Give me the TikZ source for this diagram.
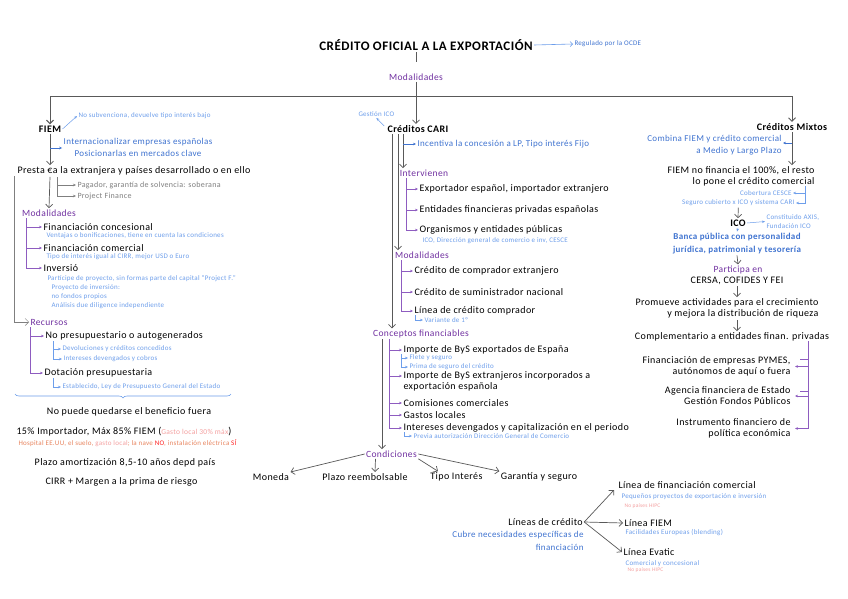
\documentclass[tikz,border=0pt]{standalone}
\usepackage{fontspec}
\setmainfont{Carlito}[LetterSpace=4]
\usetikzlibrary{arrows.meta,decorations.pathreplacing,calc}
\definecolor{pur}{HTML}{7030A0}
\definecolor{plin}{HTML}{8E5CC0}
\definecolor{blu}{HTML}{3F73D0}
\definecolor{lblu}{HTML}{6D9EEB}
\definecolor{gtxt}{HTML}{7F7F7F}
\definecolor{pnk}{HTML}{F4A0A0}
\definecolor{salm}{HTML}{E8845E}
\definecolor{rd}{HTML}{FF2020}
\definecolor{lnc}{HTML}{595959}
\tikzset{
  every node/.style={inner sep=0pt, outer sep=1.5pt},
  tx/.style={font=\fontsize{10}{11}\selectfont, text=black},
  txb/.style={font=\bfseries\fontsize{10}{11}\selectfont, text=black},
  ttl/.style={font=\bfseries\fontsize{13}{15}\selectfont, text=black},
  smx/.style={font=\fontsize{7}{9}\selectfont, text=lblu},
  tinyp/.style={font=\fontsize{5.5}{6}\selectfont, text=pnk},
  gtx/.style={font=\fontsize{8}{9}\selectfont, text=gtxt},
  blx/.style={font=\fontsize{9}{12}\selectfont, text=blu},
  pux/.style={font=\fontsize{9.5}{11}\selectfont, text=pur},
  garr/.style={draw=lnc, line width=0.7pt, -{Straight Barb[length=3.5pt,width=7pt]}},
  gline/.style={draw=lnc, line width=0.7pt},
  garrs/.style={draw=gtxt, line width=0.5pt, -{Stealth[length=3pt,width=2.5pt]}},
  parr/.style={draw=plin, line width=0.6pt, -{Stealth[length=3pt,width=2.6pt]}},
  pline/.style={draw=plin, line width=0.6pt},
  barr/.style={draw=lblu, line width=0.6pt, -{Straight Barb[length=2.5pt,width=5pt]}},
  barrs/.style={draw=lblu, line width=0.5pt, -{Stealth[length=3pt,width=2.5pt]}},
  bbarrs/.style={draw=blu, line width=0.6pt, -{Stealth[length=3pt,width=2.6pt]}},
}
\begin{document}
\begin{tikzpicture}[x=1pt,y=-1pt]
\fill[white] (0,0) rectangle (848,599);
\useasboundingbox (0,0) rectangle (848,599);

% ---------- top ----------
\node[ttl] (title) at (426,45) {CRÉDITO OFICIAL A LA EXPORTACIÓN};
\node[smx, text=blu, anchor=west] (ocde) at (573,44) {Regulado por la OCDE};
\draw[barr] (title.east) -- (ocde.west);
\node[pux] (mod) at (416,77) {Modalidades};
\draw[gline] (mod.north |- title.south) -- ++(0,10);
\coordinate (bar) at (416,97);
\node[txb] (fiem) at (50,129) {FIEM};
\node[txb] (cari) at (418,129) {Créditos CARI};
\node[txb] (mix) at (792,127) {Créditos Mixtos};
\draw[garr] (mod.south) -- (mod.south |- cari.north);
\draw[garr, line width=1pt] (bar) -| (fiem.north);
\draw[garr, line width=1pt] (bar) -| (mix.north);

% ---------- left column ----------
\node[smx, anchor=west] (nosub) at (77,116) {No subvenciona, devuelve tipo interés bajo};
\draw[barrs] (fiem.east) -- (nosub.west);
\node[blx, align=center] (intl) at (138,147.5) {Internacionalizar empresas españolas\\Posicionarlas en mercados clave};
\node[tx, anchor=west] (presta) at (16,171) {Presta €a la extranjera y países desarrollado o en ello};
\draw[garr] (fiem.south) -- (fiem.south |- presta.north);
\coordinate (f1) at (50,148);
\draw[bbarrs] (f1) -- (f1 -| intl.west);
\node[gtx, anchor=west] (pag) at (76,185) {Pagador, garantía de solvencia: soberana};
\node[gtx, anchor=west] (pf) at (76,196) {Project Finance};
\coordinate (p1) at (57,177);
\draw[garrs] (p1) |- (pag.west);
\draw[garrs] (p1) |- (pf.west);
\node[pux] (mod1) at (49,213) {Modalidades};
\draw[garr] (presta.south -| fiem.south) -- (mod1.north);

\node[tx, anchor=west] (fcon) at (42,227) {Financiación concesional};
\node[smx, anchor=west] at (45,236) {Ventajas o bonificaciones, tiene en cuenta las condiciones};
\node[tx, anchor=west] (fcom) at (42,248) {Financiación comercial};
\node[smx, anchor=west] at (45,257) {Tipo de interés igual al CIRR, mejor USD o Euro};
\node[tx, anchor=west] (inv) at (42,268) {Inversió};
\node[smx, anchor=west] at (46,279) {Partícipe de proyecto, sin formas parte del capital “Project F.”};
\node[smx, anchor=west] at (50,288) {Proyecto de inversión:};
\node[smx, anchor=west] at (50,297) {no fondos propios};
\node[smx, anchor=west] at (50,306) {Análisis due diligence independiente};
\coordinate (m1) at (26,218);
\draw[parr] (m1) |- (fcon.west);
\draw[parr] (m1) |- (fcom.west);
\draw[parr] (m1) |- (inv.west);

\node[pux, anchor=west] (rec) at (29,322) {Recursos};
\coordinate (p0) at (14,176);
\draw[garr, draw=gtxt, line width=0.5pt] (p0) |- (rec.west);
\node[tx, anchor=west] (nop) at (44,336) {No presupuestario o autogenerados};
\node[smx, anchor=west] (dev) at (61,349) {Devoluciones y créditos concedidos};
\node[smx, anchor=west] (intd) at (62,359) {Intereses devengados y cobros};
\node[tx, anchor=west] (dot) at (43,373) {Dotación presupuestaria};
\node[smx, anchor=west] (est) at (61,387) {Establecido, Ley de Presupuesto General del Estado};
\coordinate (r1) at (30,327);
\draw[parr] (r1) |- (nop.west);
\draw[parr] (r1) |- (dot.west);
\coordinate (n1) at (53,341);
\draw[barrs] (n1) |- (dev.west);
\draw[barrs] (n1) |- (intd.west);
\coordinate (d1) at (53,378);
\draw[barrs] (d1) |- (est.west);
\coordinate (brL) at (15,394);
\coordinate (brR) at (231,394);
\draw[draw=lblu, line width=0.6pt, decorate, decoration={brace, amplitude=4pt, mirror}] (brL) -- (brR);

\node[tx] (nobf) at (129,412) {No puede quedarse el beneficio fuera};
\node[tx, anchor=west] (imp) at (15,432) {15\% Importador, Máx 85\% FIEM (\textcolor{pnk}{\fontsize{7.5}{9}\selectfont Gasto local 30\% máx})};
\node[anchor=west, font=\fontsize{7}{8}\selectfont] (hosp) at (17,443) {\textcolor{salm}{Hospital EE.UU, el suelo,} \textcolor{pnk}{gasto local}\textcolor{salm}{; la nave} \textcolor{rd}{NO}\textcolor{salm}{, instalación eléctrica} \textcolor{rd}{SÍ}};
\node[tx] (plazo) at (125,463) {Plazo amortización 8,5-10 años depd país};
\node[tx] (cirr) at (121.5,482) {CIRR + Margen a la prima de riesgo};

% ---------- middle column ----------
\node[smx, anchor=west] (gico) at (357,114) {Gestión ICO};
\draw[barrs] ([shift={(-2,-3)}]cari.west) -- (gico.south);
\node[blx, anchor=west] (inc) at (416,144) {Incentiva la concesión a LP, Tipo interés Fijo};
\node[pux] (inter) at (424,173) {Intervienen};
\node[tx, anchor=west] (exp) at (418,189) {Exportador español, importador extranjero};
\node[tx, anchor=west] (ent) at (418,210) {Entidades financieras privadas españolas};
\node[tx, anchor=west] (org) at (418,230) {Organismos y entidades públicas};
\node[smx, anchor=west] at (421,241) {ICO, Dirección general de comercio e inv, CESCE};
\node[pux] (mod2) at (422,255) {Modalidades};
\node[tx, anchor=west] (ccomp) at (413,271) {Crédito de comprador extranjero};
\node[tx, anchor=west] (csum) at (413,292) {Crédito de suministrador nacional};
\node[tx, anchor=west] (lcc) at (413,311) {Línea de crédito comprador};
\node[smx, anchor=west] (var) at (423,320) {Variante de 1º};
\node[pux] (conc) at (421,334) {Conceptos financiables};

\coordinate (c1) at (392,134);
\coordinate (c2) at (398,134);
\coordinate (c3) at (403,134);
\draw[garr] (c1) -- (c1 |- conc.north);
\draw[garr] (c2) -- (c2 |- mod2.north);
\draw[garr] (c3) -- (c3 |- inter.north);
\draw[bbarrs] (c3 |- inc.west) -- (inc.west);
\coordinate (i1) at (406,178);
\draw[parr] (i1) |- (exp.west);
\draw[parr] (i1) |- (ent.west);
\draw[parr] (i1) |- (org.west);
\coordinate (m2) at (401,260);
\draw[parr] (m2) |- (ccomp.west);
\draw[parr] (m2) |- (csum.west);
\draw[parr] (m2) |- (lcc.west);
\coordinate (v1) at (415,315);
\draw[barrs] (v1) |- (var.west);

\node[tx, anchor=west] (bys) at (402,350) {Importe de ByS exportados de España};
\node[smx, anchor=west] (flete) at (408,358) {Flete y seguro};
\node[smx, anchor=west] (prima) at (408,367) {Prima de seguro del crédito};
\node[tx, anchor=west] (bysx) at (402,376) {Importe de ByS extranjeros incorporados a};
\node[tx, anchor=west] (bysx2) at (402,387) {exportación española};
\node[tx, anchor=west] (com) at (402,403) {Comisiones comerciales};
\node[tx, anchor=west] (gl) at (402,415) {Gastos locales};
\node[tx, anchor=west] (intc) at (402,428) {Intereses devengados y capitalización en el periodo};
\node[smx, anchor=west] (prev) at (412,436) {Previa autorización Dirección General de Comercio};
\coordinate (k1) at (389,339);
\draw[parr] (k1) |- (bys.west);
\draw[parr] (k1) |- (bysx.west);
\draw[parr] (k1) |- (com.west);
\draw[parr] (k1) |- (gl.west);
\draw[parr] (k1) |- (intc.west);
\coordinate (b1) at (401,354);
\draw[barrs] (b1) |- (flete.west);
\draw[barrs] (b1) |- (prima.west);
\coordinate (b2) at (404,432);
\draw[barrs] (b2) |- (prev.west);

% ---------- condiciones ----------
\node[pux] (cond) at (391.5,454) {Condiciones};
\coordinate (c4) at (382,339);
\draw[garr] (c4) -- (c4 |- cond.north);
\node[tx] (mon) at (271,477) {Moneda};
\node[tx] (plr) at (365,477) {Plazo reembolsable};
\node[tx] (tint) at (456.5,477) {Tipo Interés};
\node[tx] (gar) at (539,477) {Garantía y seguro};
\draw[garr] (cond.west) -- (mon.north east);
\draw[garr] ([xshift=-16pt]cond.south) -- ([xshift=10pt]plr.north);
\draw[garr] (cond.south east) -- ([xshift=9pt]tint.north west);
\draw[garr] (cond.east) -- (gar.north west);

% ---------- right column ----------
\node[blx, anchor=east, align=right] (comb) at (783,145) {Combina FIEM y crédito comercial\\a Medio y Largo Plazo};
\node[tx, anchor=east, align=right] (f100) at (816,176.5) {FIEM no financia el 100\%, el resto\\lo pone el crédito comercial};
\draw[garr] (mix.south) -- (mix.south |- f100.north);
\coordinate (mx1) at (792,143);
\draw[bbarrs] (mx1) -- (mx1 -| comb.east);
\node[smx, anchor=east] (cesce) at (793,193) {Cobertura CESCE};
\node[smx, anchor=east] (seg) at (796,203) {Seguro cubierto x ICO y sistema CARI};
\coordinate (s1) at (805,186);
\draw[barrs] (s1) |- (cesce.east);
\draw[barrs] (s1) |- (seg.east);
\node[txb] (ico) at (738,223) {ICO};
\draw[garr] (seg.south) -- (ico.north);
\node[smx, anchor=west, align=left] (axis) at (765,221.5) {Constituido AXIS,\\Fundación ICO};
\draw[barrs] (ico.east) -- (axis.west);
\node[blx, font=\bfseries\fontsize{9}{13}\selectfont, align=center] (banca) at (737,243.5) {Banca pública con personalidad\\jurídica, patrimonial y tesorería};
\draw[barrs] (ico.south) -- (banca.north);
\node[pux] (part) at (738,270) {Participa en};
\draw[garr] (banca.south) -- (part.north);
\node[tx] (cersa) at (737,281) {CERSA, COFIDES Y FEI};
\node[tx, anchor=east, align=right] (prom) at (820,308.5) {Promueve actividades para el crecimiento\\y mejora la distribución de riqueza};
\draw[garr] (cersa.south) -- (cersa.south |- prom.north);
\node[tx] (compl) at (732,337) {Complementario a entidades finan. privadas};
\draw[garr] (cersa.south |- prom.south) -- (cersa.south |- compl.north);
\node[tx, anchor=east, align=right] (pym) at (792,366.5) {Financiación de empresas PYMES,\\autónomos de aquí o fuera};
\node[tx, anchor=east, align=right] (age) at (792,396) {Agencia financiera de Estado\\Gestión Fondos Públicos};
\node[tx, anchor=east, align=right] (ins) at (792,428.5) {Instrumento financiero de\\política económica};
\coordinate (q1) at (808,341);
\draw[pline] (q1) -- (q1 |- ins.east);
\draw[parr, shorten >=3pt] (q1 |- pym.east) -- (pym.east);
\draw[parr, shorten >=3pt] (q1 |- age.east) -- (age.east);
\draw[parr, shorten >=3pt] (q1 |- ins.east) -- (ins.east);
\draw[pline] (q1) ++(0,18) -- ++(-8,0);
\draw[pline] (q1) ++(0,50) -- ++(-8,0);

% ---------- lineas de credito ----------
\node[tx] (lc) at (545.5,522) {Líneas de crédito};
\node[blx, anchor=east, align=right, font=\fontsize{9}{13}\selectfont] (cubre) at (585,540.5) {Cubre necesidades específicas de\\financiación};
\node[tx, anchor=west] (lfc) at (617,485) {Línea de financiación comercial};
\node[smx, anchor=west] at (620,497) {Pequeños proyectos de exportación e inversión};
\node[tinyp, anchor=west] at (623,506) {No países HIPC};
\node[tx, anchor=west] (lfiem) at (623,523) {Línea FIEM};
\node[smx, anchor=west] at (624,533) {Facilidades Europeas (blending)};
\node[tx, anchor=west] (lev) at (622,552) {Línea Evatic};
\node[smx, anchor=west] at (624,564) {Comercial y concesional};
\node[tinyp, anchor=west] at (626,570) {No países HIPC};
\draw[garr] (lc.east) -- ([xshift=-3pt]lfc.south west);
\draw[garr] (lc.east) -- (lfiem.west);
\draw[garr] (lc.east) -- (lev.west);
\end{tikzpicture}
\end{document}
